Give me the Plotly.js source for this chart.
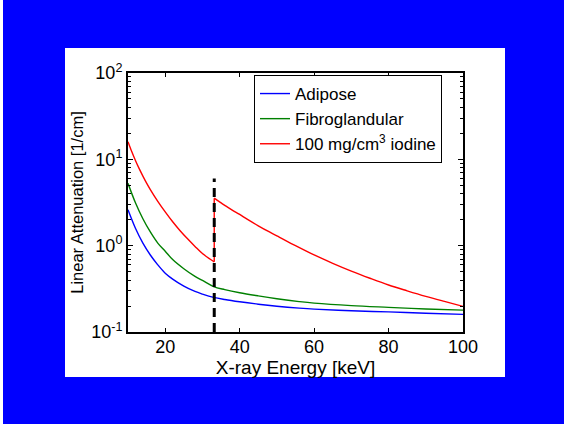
<!DOCTYPE html>
<html>
<head>
<meta charset="utf-8">
<script src="https://cdn.plot.ly/plotly-3.0.1.min.js"></script>
<style>html,body{margin:0;padding:0;background:#0000ff;}#chart{width:564px;height:424px;}</style>
</head>
<body>
<div id="chart"></div>
<script>
// Energies (keV) and linear attenuation (1/cm)
var energyTissue = [10, 12, 14, 16, 18, 20, 22, 25, 28, 30, 33, 36, 40, 45, 50, 56, 60, 70, 80, 90, 100];
var adipose = [2.6, 1.59, 1.07, 0.78, 0.60, 0.48, 0.41, 0.34, 0.295, 0.275, 0.252, 0.238, 0.224, 0.210, 0.199, 0.189, 0.184, 0.176, 0.171, 0.165, 0.160];
var fibroglandular = [5.27, 3.14, 2.05, 1.44, 1.07, 0.86, 0.69, 0.54, 0.44, 0.395, 0.336, 0.31, 0.285, 0.262, 0.243, 0.225, 0.216, 0.202, 0.193, 0.185, 0.179];
var energyIodineLow = [10, 11, 12, 13, 14, 15, 16, 18, 20, 22, 24, 26, 28, 30, 32, 33.17];
var iodineLow = [16.0, 12.3, 9.7, 7.8, 6.4, 5.3, 4.46, 3.26, 2.46, 1.89, 1.49, 1.20, 0.98, 0.81, 0.70, 0.65];
var energyIodineHigh = [33.17, 34, 35, 36, 38, 40, 42, 45, 48, 50, 55, 60, 65, 70, 75, 80, 85, 90, 95, 100];
var iodineHigh = [3.55, 3.35, 3.13, 2.93, 2.58, 2.30, 2.03, 1.70, 1.44, 1.30, 1.0, 0.78, 0.624, 0.507, 0.419, 0.35, 0.30, 0.259, 0.226, 0.198];
var kEdgeEnergy = [33.17, 33.17];
var kEdgeJump = [0.65, 3.55];
var edgeMarker = [0.1, 6.0];
var seriesNames = ["Adipose", "Fibroglandular", "100 mg/cm<sup>3</sup> iodine"];
var xTickVals = [20, 40, 60, 80, 100];
var yTickVals = [0.1, 1, 10, 100];
var yTickText = ["10<sup>-1</sup>", "10<sup>0</sup>", "10<sup>1</sup>", "10<sup>2</sup>"];

var fam = "Liberation Sans, Arial, Helvetica, sans-serif";
var font = {family: fam, size: 18, color: "#000"};

var lw = 1.4;
var traces = [
  {x: energyTissue, y: adipose, name: seriesNames[0], mode: "lines", line: {color: "#0000ff", width: lw, shape: "spline"}},
  {x: energyTissue, y: fibroglandular, name: seriesNames[1], mode: "lines", line: {color: "#008000", width: lw, shape: "spline"}},
  {x: energyIodineLow, y: iodineLow, name: seriesNames[2], legendgroup: "iodine", mode: "lines", line: {color: "#ff0000", width: lw, shape: "spline"}},
  {x: kEdgeEnergy, y: kEdgeJump, name: seriesNames[2], legendgroup: "iodine", showlegend: false, mode: "lines", line: {color: "#ff0000", width: lw}},
  {x: energyIodineHigh, y: iodineHigh, name: seriesNames[2], legendgroup: "iodine", showlegend: false, mode: "lines", line: {color: "#ff0000", width: lw, shape: "spline"}},
  {x: kEdgeEnergy, y: edgeMarker, mode: "lines", showlegend: false, line: {color: "#000", width: 3, dash: "9px,6px"}}
];

var minorVals = [];
[-1, 0, 1].forEach(function (d) { for (var k = 2; k <= 9; k++) minorVals.push(k * Math.pow(10, d)); });

var layout = {
  width: 564, height: 424,
  margin: {l: 128, r: 101, t: 73, b: 92},
  paper_bgcolor: "#0000ff",
  plot_bgcolor: "#ffffff",
  font: font,
  showlegend: true,
  shapes: [
    {type: "rect", xref: "paper", yref: "paper", layer: "below",
     x0: (65 - 128) / 335, x1: (505 - 128) / 335, y0: (332 - 377) / 259, y1: (332 - 48) / 259,
     fillcolor: "#ffffff", line: {width: 0}},
    {type: "rect", xref: "paper", yref: "paper", layer: "below",
     x0: (0 - 128) / 335, x1: (3 - 128) / 335, y0: (332 - 424) / 259, y1: (332 - 0) / 259,
     fillcolor: "#ffffff", line: {width: 0}}
  ],
  xaxis: {
    range: [10, 100], tickmode: "array", tickvals: xTickVals,
    ticks: "inside", ticklen: 4, tickwidth: 1, tickcolor: "#000",
    showline: true, linecolor: "#000", linewidth: 2, mirror: "ticks",
    showgrid: false, zeroline: false,
    tickfont: font, ticklabelstandoff: -3,
    title: {text: "X-ray Energy [keV]", font: {family: fam, size: 19, color: "#000"}, standoff: 0}
  },
  yaxis: {
    type: "log", range: [-1, 2], tickmode: "array", tickvals: yTickVals, ticktext: yTickText,
    ticks: "inside", ticklen: 5, tickwidth: 1, tickcolor: "#000",
    minor: {tickmode: "array", tickvals: minorVals, ticks: "inside", ticklen: 3, tickwidth: 1, tickcolor: "#000", showgrid: false},
    showline: true, linecolor: "#000", linewidth: 2, mirror: "ticks",
    showgrid: false, zeroline: false,
    tickfont: font,
    title: {text: "Linear Attenuation [1/cm]", font: {family: fam, size: 16.5, color: "#000"}, standoff: 3}
  },
  legend: {
    x: (254 - 128) / 335, xanchor: "left", y: (332 - 75) / 259, yanchor: "top",
    bgcolor: "#ffffff", bordercolor: "#000", borderwidth: 1,
    font: {family: fam, size: 17, color: "#000"}, tracegroupgap: 0, itemwidth: 30
  }
};

Plotly.newPlot("chart", traces, layout, {staticPlot: true});
</script>
</body>
</html>
